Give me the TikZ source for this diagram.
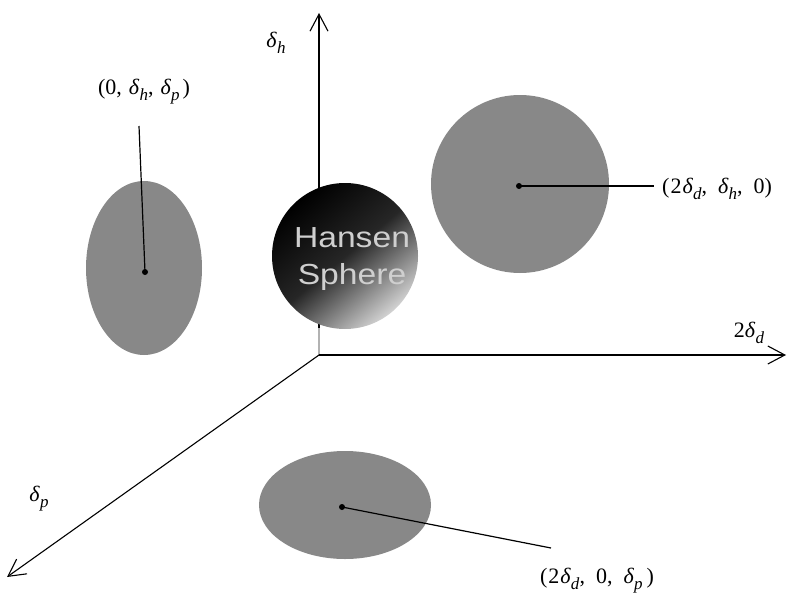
\documentclass[tikz,border=0pt]{standalone}
\usepackage{fontspec}
\newfontfamily\hsans{Liberation Sans}
\newfontfamily\lserif{Liberation Serif}
\usetikzlibrary{arrows.meta}
\definecolor{blobgray}{HTML}{888888}
\definecolor{hstext}{HTML}{CFCFCF}
\newcommand{\dl}[1]{\textit{δ}\raisebox{-6pt}{\fontsize{17}{17}\selectfont\textit{#1}}}
\newcommand{\cm}{,\hspace{7pt}}
\newcommand{\cmw}{,\hspace{11pt}}
\tikzset{
  axis/.style={line width=1.1pt, -{Straight Barb[length=17pt,width=18pt,line width=1.1pt]}},
  blob/.style={fill=blobgray, draw=none},
  leader/.style={line width=1.2pt},
  dotc/.style={circle, fill=black, inner sep=0pt, minimum size=6pt},
  lab/.style={font=\lserif\fontsize{22}{26}\selectfont, inner sep=0pt},
}
\begin{document}
\begin{tikzpicture}[x=1pt,y=-1pt]
\useasboundingbox (0,0) rectangle (799,594);
% axes
\coordinate (O) at (319,355);
\coordinate (Zt) at (319,13);
\coordinate (Xt) at (786,355);
\coordinate (Yt) at (7,577);
\draw[axis, draw=black] (O) -- (Zt);
\draw[line width=1.1pt, draw=gray!60] (O) -- (319,328);
\draw[axis] (O) -- (Xt);
\draw[axis] (O) -- (Yt);
% sphere
\shade[top color=black, bottom color=gray!35, middle color=black!85, shading angle=40] (345,256) circle[radius=73];
\node[font=\hsans\fontsize{29}{37}\selectfont, text=hstext, align=center, inner sep=0pt, xscale=1.16] (hs) at (352,259) {Hansen\\Sphere};
% blobs
\fill[blob] (144,268) ellipse[x radius=58, y radius=87];
\fill[blob] (520,184) circle[radius=89];
\fill[blob] (345,505) ellipse[x radius=86, y radius=54];
% dots
\node[dotc] (d1) at (145,272) {};
\node[dotc] (d2) at (519,186) {};
\node[dotc] (d3) at (342,507) {};
% labels
\node[lab] (l1) at (144,92) {(0\cm\dl{h}\cm\dl{p}\hspace{3pt})};
\node[lab, anchor=west] (l2) at (662,189) {(\hspace{1pt}2\hspace{1pt}\dl{d}\cmw\dl{h}\cmw0)};
\node[lab] (l3) at (597,581) {(\hspace{1pt}2\hspace{1pt}\dl{d}\cmw0\cmw\dl{p}\hspace{4pt})};
\coordinate (e1) at (139,126);
\coordinate (e2) at (654,186);
\coordinate (e3) at (551,548);
\draw[leader] (d1.center) -- (e1);
\draw[leader] (d2.center) -- (e2);
\draw[leader] (d3.center) -- (e3);
% axis labels
\node[lab] (ah) at (276,43) {\dl{h}};
\node[lab] (ad) at (749,333) {2\dl{d}};
\node[lab] (ap) at (39,499) {\dl{p}};
\end{tikzpicture}
\end{document}
